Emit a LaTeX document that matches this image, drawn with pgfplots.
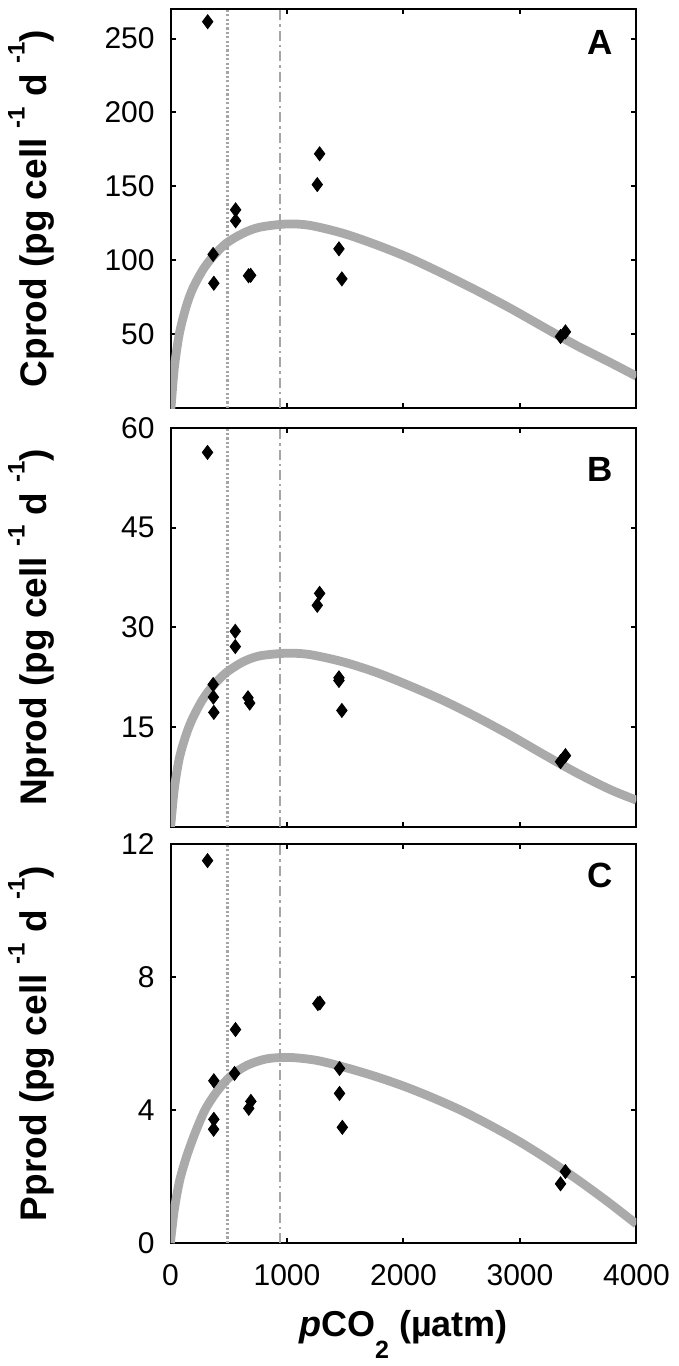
\documentclass[border=0pt]{standalone}
\usepackage{fontspec}
\setmainfont{Liberation Sans}
\usepackage{pgfplots}
\pgfplotsset{compat=1.18}
\definecolor{fitgray}{RGB}{170,170,170}
\definecolor{linegray}{RGB}{165,165,165}

% MATLAB-style raised exponent
\newcommand{\upx}[1]{\raisebox{11pt}{\fontsize{12}{12}\selectfont #1}}

\pgfplotsset{
  panel/.style={
    scale only axis, width=233pt, height=199.5pt, anchor=north west,
    xmin=0, xmax=4000, xtick={0,1000,2000,3000,4000},
    tick align=inside, major tick length=2.6pt,
    every tick/.append style={black, line width=1pt},
    axis line style={line width=1pt},
    tick label style={font=\fontsize{15}{15}\selectfont},
    /pgf/number format/assume math mode=true,
    /pgf/number format/1000 sep={},
    yticklabel style={inner sep=0pt, xshift=-7.75pt},
    xticklabel style={inner sep=0pt, yshift=-10.8pt},
    ylabel style={at={(axis description cs:-0.299,0.5)}, anchor=center,
      font=\fontsize{18.5}{18.5}\selectfont\bfseries},
  },
  obs/.style={only marks, mark=diamond*, mark size=3.5pt, black},
  fitc/.style={fitgray, line width=4.4pt, no marks, smooth},
  dotv/.style={linegray, line width=1.2pt, dash pattern=on 1.1pt off 1.1pt, no marks},
  dashv/.style={linegray, line width=1.2pt, dash pattern=on 5pt off 2pt on 1.2pt off 2pt, no marks},
}
\tikzset{letter/.style={font=\fontsize{17.5}{17.5}\selectfont\bfseries}}

\begin{document}
\begin{tikzpicture}
% ---- A: carbon
\begin{axis}[panel, at={(85.25pt,-4.5pt)}, ymin=0, ymax=270,
  ytick={50,100,150,200,250}, xticklabels={},
  ylabel={Cprod (pg cell \upx{-1} d \upx{-1})}]
  \addplot[obs] coordinates {(319,261.4) (366,103.9) (372,84.4) (559,134.1) (559,126.7)
    (670,89.5) (688,89.8) (1280,172) (1260,151.2) (1446,107.7) (1471,87.4)
    (3348,48.4) (3390,51.5)};
  \addplot[fitc] coordinates {(0,0) (6,2) (34,28) (77,50.7) (135,68.7) (192,81)
    (278,93.5) (364,102.5) (479,111.5) (622,118.2) (765,122.3) (994,124.5)
    (1195,123.6) (1481,118.2) (1768,110.4) (2054,101.4) (2341,90.8) (2628,79.5)
    (2914,67.6) (3201,54.8) (3487,42.2) (3774,30.8) (4000,21.5)};
  \addplot[dotv] coordinates {(490,0) (490,270)};
  \addplot[dashv] coordinates {(940,0) (940,270)};
  \node[letter] at (rel axis cs:0.9217,0.915) {A};
\end{axis}
% ---- B: nitrogen
\begin{axis}[panel, at={(85.25pt,-213.9pt)}, ymin=0, ymax=60,
  ytick={15,30,45,60}, xticklabels={},
  ylabel={Nprod (pg cell \upx{-1} d \upx{-1})}]
  \addplot[obs] coordinates {(318,56.3) (366,21.4) (368,19.5) (372,17.2) (556,29.4)
    (556,27.1) (665,19.4) (680,18.6) (1280,35.1) (1260,33.3) (1446,22.4) (1446,22.0)
    (1471,17.5) (3348,9.8) (3390,10.7)};
  \addplot[fitc] coordinates {(0,0) (6,0.9) (34,5.9) (77,10.4) (135,13.9) (192,16.4)
    (278,19.2) (364,21.2) (479,23.2) (622,24.8) (765,25.7) (994,26.1) (1195,25.9)
    (1481,24.8) (1768,23.2) (2054,21.2) (2341,19.0) (2628,16.5) (2914,13.8)
    (3201,10.9) (3487,8.1) (3774,5.6) (4000,4.0)};
  \addplot[dotv] coordinates {(490,0) (490,60)};
  \addplot[dashv] coordinates {(940,0) (940,60)};
  \node[letter] at (rel axis cs:0.9217,0.895) {B};
\end{axis}
% ---- C: phosphorus
\begin{axis}[panel, at={(85.25pt,-422pt)}, ymin=0, ymax=12,
  ytick={0,4,8,12},
  ylabel={Pprod (pg cell \upx{-1} d \upx{-1})},
  xlabel={\textbf{\textit{p}CO\raisebox{-11pt}{\fontsize{12.5}{12.5}\selectfont 2} (µatm)}},
  xlabel style={at={(axis description cs:0.5,0)}, anchor=base, yshift=-46.85pt,
    font=\fontsize{18}{18}\selectfont\bfseries}]
  \addplot[obs] coordinates {(318,11.5) (372,4.88) (372,3.72) (370,3.42) (558,6.42)
    (550,5.1) (672,4.05) (690,4.26) (1265,7.2) (1282,7.22) (1451,5.25) (1451,4.5)
    (1475,3.48) (3348,1.78) (3390,2.15)};
  \addplot[fitc] coordinates {(0,0) (9,0.32) (37,1.1) (80,1.9) (138,2.6) (210,3.3)
    (296,4.0) (397,4.55) (511,5.0) (655,5.34) (828,5.54) (1029,5.58) (1259,5.49)
    (1500,5.28) (1750,5.02) (2000,4.72) (2250,4.37) (2500,3.98) (2750,3.53)
    (3000,3.04) (3250,2.49) (3500,1.89) (3750,1.25) (4000,0.57)};
  \addplot[dotv] coordinates {(490,0) (490,12)};
  \addplot[dashv] coordinates {(940,0) (940,12)};
  \node[letter] at (rel axis cs:0.9217,0.92) {C};
\end{axis}
\pgfresetboundingbox
\useasboundingbox (0,0) rectangle (339.5pt,-683pt);
\end{tikzpicture}
\end{document}
